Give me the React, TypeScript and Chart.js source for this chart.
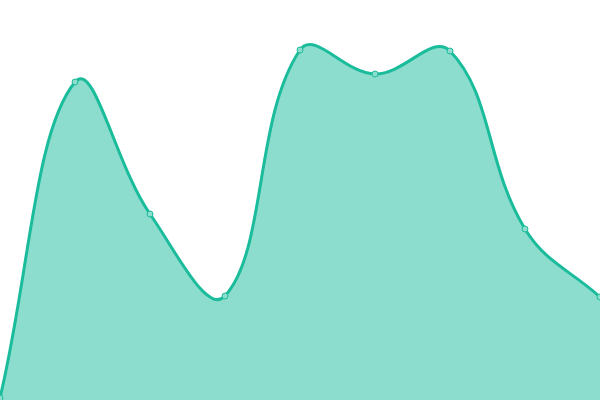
import { useEffect, useRef } from 'react';
import { Chart, registerables } from 'chart.js';

Chart.register(...registerables);

const labels = ['1', '2', '3', '4', '5', '6', '7', '8', '9'];
const values = [0.5, 79.5, 46.5, 26, 87.5, 81.5, 87.25, 42.75, 25.75];

const LINE = '#1abc9c';
const FILL = 'rgba(26, 188, 156, 0.5)';

export default function App() {
  const canvasRef = useRef<HTMLCanvasElement>(null);
  const chartRef = useRef<Chart | null>(null);

  useEffect(() => {
    document.body.style.margin = '0';
    if (!canvasRef.current) return;
    chartRef.current?.destroy();

    chartRef.current = new Chart(canvasRef.current, {
      type: 'line',
      data: {
        labels,
        datasets: [
          {
            data: values,
            borderColor: LINE,
            backgroundColor: FILL,
            borderWidth: 3,
            fill: true,
            tension: 0.4,
            pointRadius: 3,
            pointBorderWidth: 1,
            pointBackgroundColor: 'rgba(140, 221, 205, 1)',
            pointBorderColor: LINE,
          },
        ],
      },
      options: {
        responsive: false,
        animation: false,
        layout: { autoPadding: false, padding: 0 },
        plugins: { legend: { display: false }, tooltip: { enabled: false } },
        scales: {
          x: { display: false },
          y: { display: false, min: 0, max: 100 },
        },
      },
    });

    return () => {
      chartRef.current?.destroy();
    };
  }, []);

  return (
    <div style={{ width: 600, height: 400 }}>
      <canvas ref={canvasRef} width={600} height={400} />
    </div>
  );
}
